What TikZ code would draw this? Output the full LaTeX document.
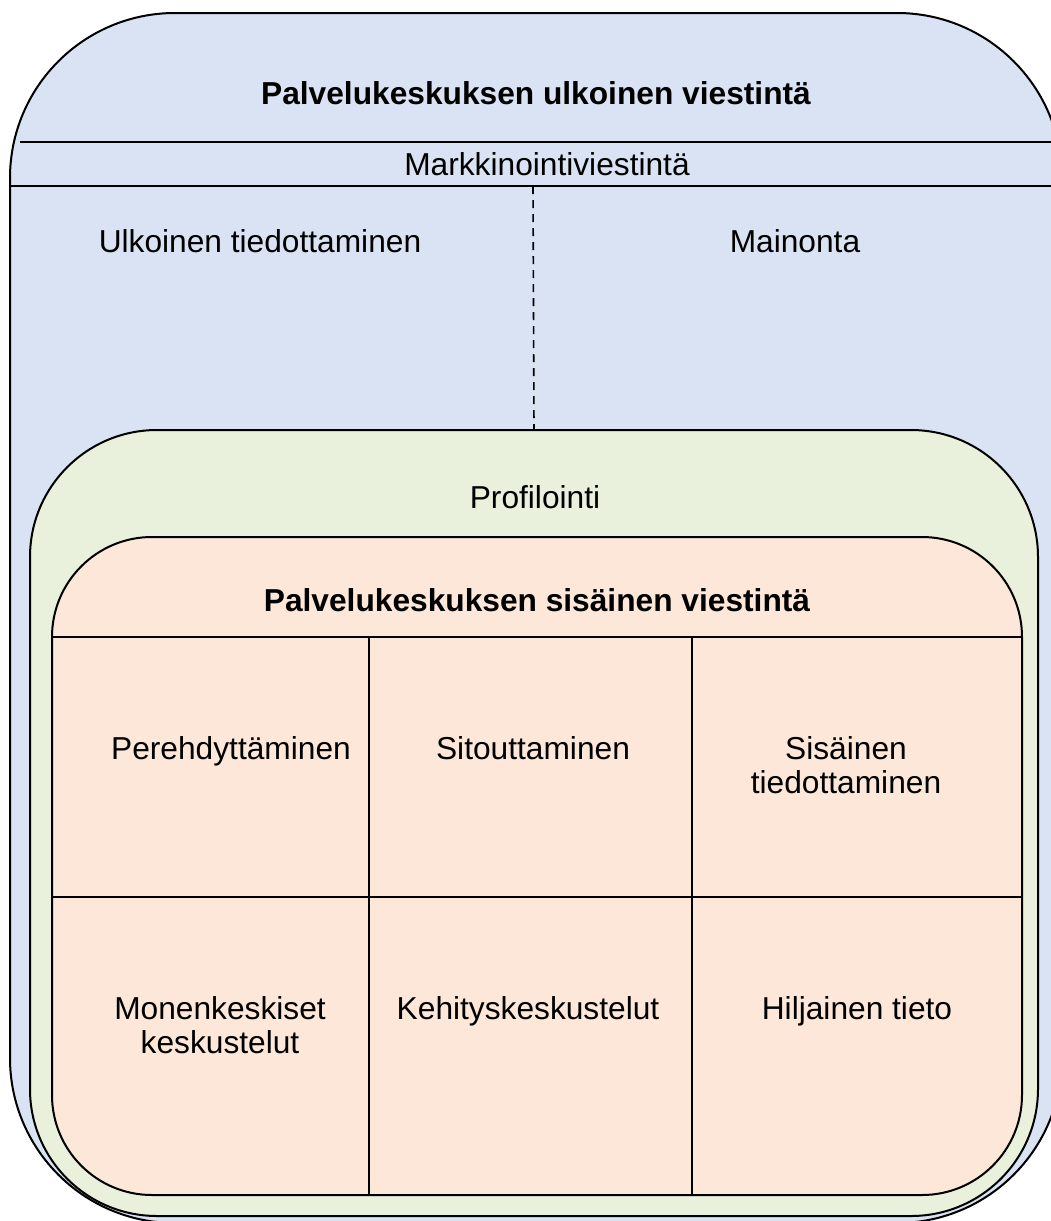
\documentclass[tikz,border=0pt]{standalone}
\usepackage{fontspec}
\setmainfont{Liberation Sans}
\definecolor{outerblue}{HTML}{DAE3F3}
\definecolor{profgreen}{HTML}{E9F0DC}
\definecolor{innerpeach}{HTML}{FCE7D8}
\begin{document}
\begin{tikzpicture}[x=1pt,y=-1pt,
  box/.style={draw=black, line width=2pt, inner sep=0pt, outer sep=0pt, anchor=north west},
  rule/.style={draw=black, line width=2pt},
  lbl/.style={font=\fontsize{31.7}{34}\selectfont, inner sep=0pt, anchor=base, align=center},
  ttl/.style={lbl, font=\fontsize{31.7}{34}\selectfont\bfseries},
]
\useasboundingbox (0,0) rectangle (1051,1221);
\clip (0,0) rectangle (1051,1221);

% external communication container
\node[box, fill=outerblue, rounded corners=165pt,
      minimum width=1052pt, minimum height=1210pt] (outer) at (10,13) {};
\draw[rule] (20,142) -- (1062,142);
\draw[rule] (10,186) -- (1062,186);
\coordinate (split) at (533,186);

% profiling container
\node[box, fill=profgreen, rounded corners=127pt,
      minimum width=1008pt, minimum height=786pt] (prof) at (30,430) {};
\draw[dashed, line width=1.6pt, dash pattern=on 8pt off 6pt] (split) -- (prof.north);

% internal communication container
\node[box, fill=innerpeach, rounded corners=100pt,
      minimum width=970pt, minimum height=658pt] (inner) at (52,537) {};
\draw[rule] (52,637) -- (1022,637);
\draw[rule] (52,897) -- (1022,897);
\draw[rule] (369,637) -- (369,1195);
\draw[rule] (692,637) -- (692,1195);

% labels (multi-line nodes sit on the baseline of their last line)
\node[ttl] (t1) at (536,104) {Palvelukeskuksen ulkoinen viestintä};
\node[lbl] (mv) at (547,175) {Markkinointiviestintä};
\node[lbl] (ut) at (260,252) {Ulkoinen tiedottaminen};
\node[lbl] (ma) at (795,252) {Mainonta};
\node[lbl] (pr) at (535,508) {Profilointi};
\node[ttl] (t2) at (537,611) {Palvelukeskuksen sisäinen viestintä};
\node[lbl] (pe) at (231,759) {Perehdyttäminen};
\node[lbl] (si) at (533,759) {Sitouttaminen};
\node[lbl] (st) at (846,793) {Sisäinen\\tiedottaminen};
\node[lbl] (mk) at (220,1053) {Monenkeskiset\\keskustelut};
\node[lbl] (ke) at (528,1019) {Kehityskeskustelut};
\node[lbl] (hi) at (857,1019) {Hiljainen tieto};
\end{tikzpicture}
\end{document}
